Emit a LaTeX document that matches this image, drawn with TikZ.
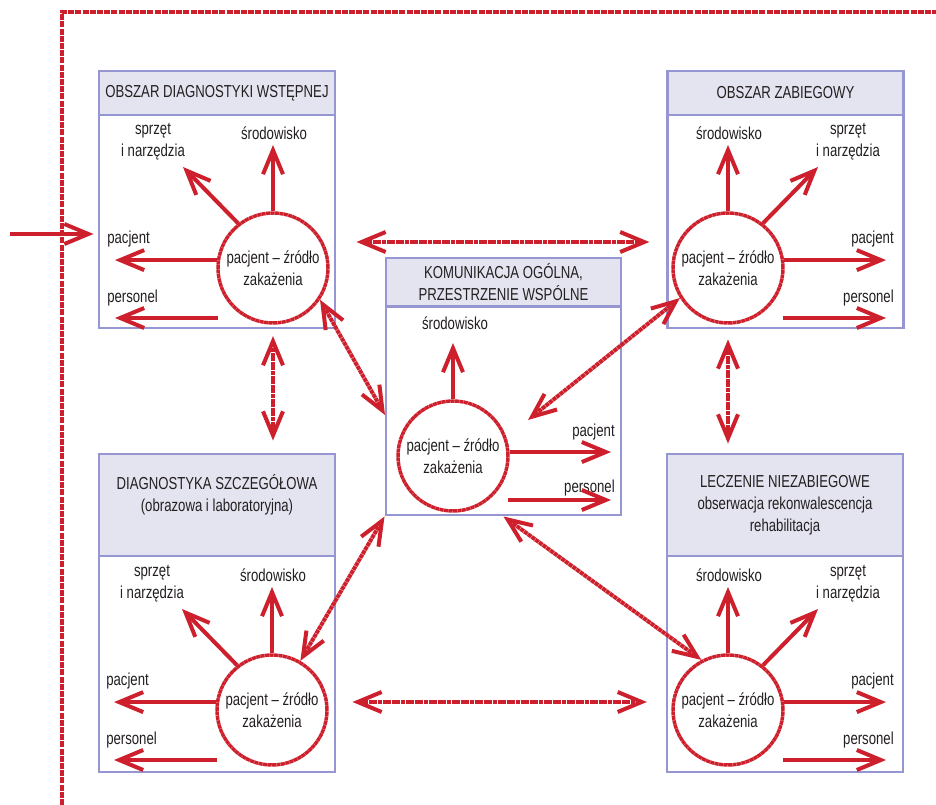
\documentclass[tikz,border=0pt]{standalone}
\usepackage{fontspec}
\setmainfont[FakeStretch=0.76]{Liberation Sans}
\usetikzlibrary{arrows.meta}
\definecolor{zakRed}{RGB}{205,32,44}
\definecolor{boxLine}{RGB}{150,150,210}
\definecolor{boxHead}{RGB}{228,228,240}
\definecolor{txtGray}{RGB}{35,31,32}

\begin{document}
\begin{tikzpicture}
[x=0.75pt,y=-0.75pt,%
  boxDecorate/.style={draw=boxLine,line width=2.2pt,fill=white,inner sep=0pt},%
  headDecorate/.style={draw=boxLine,line width=2.2pt,fill=boxHead,anchor=north,align=center,text=txtGray},%
  circleDecorate/.style={shape=circle,draw=zakRed,line width=2.6pt,dash pattern=on 3pt off 0.35pt,minimum size=82.5pt,inner sep=0pt,align=center,text=txtGray},%
  arrowDecorate/.style={draw=zakRed,line width=3pt,-{Straight Barb[length=18pt,width=15pt]}},%
  linkDecorate/.style={draw=zakRed,line width=3pt,dash pattern=on 3pt off 0.45pt,{Straight Barb[length=18pt,width=15pt]}-{Straight Barb[length=18pt,width=15pt]}},%
  frameDecorate/.style={draw=zakRed,line width=3pt,dash pattern=on 4.5pt off 0.9pt},%
  labelDecorate/.style={align=center,inner sep=0pt,text=txtGray}]
\fontsize{13}{16.5}\selectfont
\useasboundingbox (0,0) rectangle (936,805);
%% outer frame
\draw[frameDecorate] (62,805) -- (62,12) -- (936,12);
%% boxes and their headers
\node[boxDecorate,minimum width=177pt,minimum height=192.75pt] (boxA) at (217,199.5) {};
\node[headDecorate,minimum width=177pt,minimum height=33pt] (headA) at (boxA.north) {OBSZAR DIAGNOSTYKI WSTĘPNEJ};
\node[boxDecorate,minimum width=177pt,minimum height=192.75pt] (boxB) at (785.5,199.5) {};
\node[headDecorate,minimum width=177pt,minimum height=33pt] (headB) at (boxB.north) {OBSZAR ZABIEGOWY};
\node[boxDecorate,minimum width=176.25pt,minimum height=192.75pt] (boxC) at (503.5,386.5) {};
\node[headDecorate,minimum width=176.25pt,minimum height=33pt] (headC) at (boxC.north) {KOMUNIKACJA OGÓLNA,\\PRZESTRZENIE WSPÓLNE};
\node[boxDecorate,minimum width=177pt,minimum height=238.5pt] (boxD) at (217,613) {};
\node[headDecorate,minimum width=177pt,minimum height=76.5pt] (headD) at (boxD.north) {};
\node[labelDecorate,anchor=north] (titleD) at ([yshift=-16pt]headD.north) {DIAGNOSTYKA SZCZEGÓŁOWA\\(obrazowa i laboratoryjna)};
\node[boxDecorate,minimum width=177pt,minimum height=238.5pt] (boxE) at (785,613) {};
\node[headDecorate,minimum width=177pt,minimum height=76.5pt] (headE) at (boxE.north) {};
\node[labelDecorate,anchor=north] (titleE) at ([yshift=-17pt]headE.north) {LECZENIE NIEZABIEGOWE\\obserwacja rekonwalescencja\\rehabilitacja};
%% circles
\foreach \c/\x/\y in {cA/273/268, cB/728/268, cC/453/456, cD/272/710, cE/728/710}
  \node[circleDecorate] (\c) at (\x,\y) {pacjent – źródło\\zakażenia};
%% arrows and labels round the circles
\foreach \c/\s/\side/\sang/\pang in {cA/-1/west/128/172, cB/1/east/52/8,
  cD/-1/west/128/172, cE/1/east/52/8}
{
  \node[labelDecorate] (\c-envText) at ([shift={(1,-135)}]\c.center) {środowisko};
  \node[labelDecorate] (\c-toolText) at ([shift={(\s*120,-126)}]\c.center) {sprzęt\\i narzędzia};
  \node[labelDecorate,anchor=\side] (\c-pacText) at ([shift={(\s*166,-29)}]\c.center) {pacjent};
  \node[labelDecorate,anchor=\side] (\c-perText) at ([shift={(\s*166,30)}]\c.center) {personel};
  \coordinate (\c-env) at ([shift={(0,-123)}]\c.center);
  \coordinate (\c-tool) at ([shift={(\s*90,-101)}]\c.center);
  \coordinate (\c-pac) at ([shift={(\s*158,0)}]\c.center);
  \coordinate (\c-perFrom) at ([shift={(\s*55,50)}]\c.center);
  \coordinate (\c-perTo) at ([shift={(\s*158,50)}]\c.center);
  \draw[arrowDecorate] (\c.north) -- (\c-env);
  \draw[arrowDecorate] (\c.\sang) -- (\c-tool);
  \draw[arrowDecorate] (\c.\pang) -- (\c.\pang -| \c-pac);
  \draw[arrowDecorate] (\c-perFrom) -- (\c-perTo);
}
%% centre box has no tools arrow
\node[labelDecorate] (cC-envText) at ([shift={(2,-133)}]cC.center) {środowisko};
\node[labelDecorate,anchor=east] (cC-pacText) at ([shift={(162,-24)}]cC.center) {pacjent};
\node[labelDecorate,anchor=east] (cC-perText) at ([shift={(162,32)}]cC.center) {personel};
\coordinate (cC-env) at ([shift={(0,-113)}]cC.center);
\coordinate (cC-pac) at ([shift={(158,0)}]cC.center);
\coordinate (cC-perFrom) at ([shift={(55,44)}]cC.center);
\coordinate (cC-perTo) at ([shift={(158,44)}]cC.center);
\draw[arrowDecorate] (cC.north) -- (cC-env);
\draw[arrowDecorate] (cC.4) -- (cC.4 -| cC-pac);
\draw[arrowDecorate] (cC-perFrom) -- (cC-perTo);
%% entry of the patient
\coordinate (entry) at (10,234);
\draw[arrowDecorate,shorten >=3pt] (entry) -- (entry -| boxA.west);
%% links between the areas
\coordinate (topRow) at (500,242);
\coordinate (botRow) at (500,702);
\coordinate (linkAC) at (385,415);
\coordinate (linkBC) at (528,420);
\draw[linkDecorate,shorten <=15pt,shorten >=12.5pt] (boxA.east |- topRow) -- (boxB.west |- topRow);
\draw[linkDecorate,shorten <=12pt,shorten >=14pt] (boxD.east |- botRow) -- (boxE.west |- botRow);
\draw[linkDecorate,shorten <=5pt,shorten >=9pt] (cA |- boxA.south) -- (cA |- boxD.north);
\draw[linkDecorate,shorten <=7.5pt,shorten >=6.75pt] (cB |- boxB.south) -- (cB |- boxE.north);
\draw[linkDecorate] (cA.-34) -- (linkAC);
\draw[linkDecorate] (cB.212) -- (linkBC);
\draw[linkDecorate] (boxC.south west) -- (cD.60);
\draw[linkDecorate] (boxC.south) -- (cE.118);
\end{tikzpicture}
\end{document}
